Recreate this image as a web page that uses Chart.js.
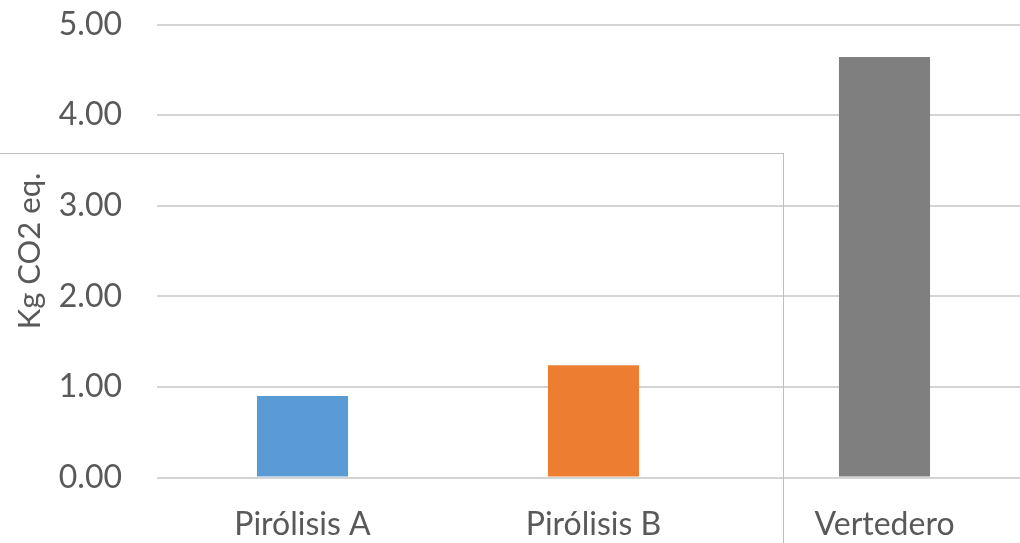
<!DOCTYPE html>
<html>
<head>
<meta charset="utf-8">
<script src="https://cdn.jsdelivr.net/npm/chart.js@4.4.0/dist/chart.umd.min.js"></script>
<style>
  html, body { margin: 0; padding: 0; background: #fff; overflow: hidden; }
  #wrap { position: relative; width: 1020px; height: 543px; overflow: hidden; }
  #box { position: relative; width: 1030px; height: 543px; }
  #frame { position: absolute; left: -2px; top: 153px; width: 786px; height: 400px;
           border: 1px solid #bfbfbf; box-sizing: border-box; pointer-events: none; }
</style>
</head>
<body>
<div id="wrap">
  <div id="box"><canvas id="c"></canvas></div>
  <div id="frame"></div>
</div>
<script>
const categories = ["Pirólisis A", "Pirólisis B", "Vertedero"];
const values = [0.90, 1.24, 4.64];
const barColors = ["#5B9BD5", "#ED7D31", "#7F7F7F"];
const yTitle = "Kg CO2 eq.";
const yMin = 0, yMax = 5, yStep = 1;

const FONT = "Lato, 'Open Sans', sans-serif";
const GREY = "#595959";

new Chart(document.getElementById("c"), {
  type: "bar",
  data: {
    labels: categories,
    datasets: [{
      data: values,
      backgroundColor: barColors,
      borderWidth: 0,
      categoryPercentage: 1.0,
      barPercentage: 0.313
    }]
  },
  options: {
    responsive: true,
    maintainAspectRatio: false,
    animation: false,
    devicePixelRatio: 1,
    layout: { padding: { top: 24.5, right: 0, left: 0, bottom: 0 } },
    plugins: { legend: { display: false }, tooltip: { enabled: false } },
    scales: {
      x: {
        grid: { display: false, drawTicks: false },
        border: { display: false },
        ticks: { color: GREY, font: { family: FONT, size: 32 }, padding: 28 },
        afterFit(s) { s.height = 65.5; s.paddingLeft = 0; s.paddingRight = 0; }
      },
      y: {
        min: yMin, max: yMax,
        grid: { color: "#d4d4d4", lineWidth: 2, drawTicks: false },
        border: { display: false },
        ticks: {
          stepSize: yStep,
          color: GREY,
          font: { family: FONT, size: 32 },
          padding: 35,
          callback: v => Number(v).toFixed(2)
        },
        title: {
          display: true, text: yTitle, color: GREY,
          font: { family: FONT, size: 31 },
          padding: { top: 11, bottom: 0 }
        },
        afterFit(s) { s.width = 157; s.paddingTop = 0; s.paddingBottom = 0; }
      }
    }
  }
});
</script>
</body>
</html>
